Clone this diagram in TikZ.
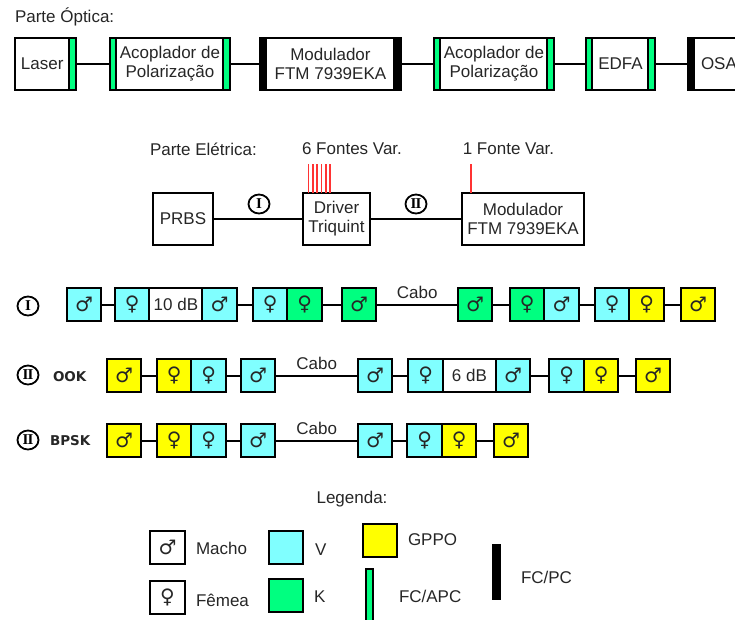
\documentclass[tikz,border=0pt]{standalone}
\usepackage{fontspec}
\setmainfont{Liberation Sans}
\newfontfamily\simbfont{DejaVu Sans}
\newfontfamily\romfont{Liberation Serif}
\usetikzlibrary{arrows.meta,shapes.geometric,positioning}
\definecolor{conV}{HTML}{80FFFF}
\definecolor{conK}{HTML}{00FF80}
\definecolor{conG}{HTML}{FFFF00}
\newcommand{\macho}{♂}
\newcommand{\femea}{♀}
\begin{document}
\begin{tikzpicture}[x=1pt,y=-1pt,
  every node/.style={font=\fontsize{17}{19}\selectfont,text=black!85,inner sep=0pt,outer sep=0pt},
  fio/.style={line width=2pt},
  fonte/.style={line width=1.2pt,color=red!80!white},
  caixa/.style={draw,line width=2pt,align=center,minimum height=52pt},
  tiraK/.style={draw,line width=2pt,fill=conK,minimum width=6.5pt,minimum height=52pt},
  tiraP/.style={draw,line width=2pt,fill=black,minimum width=6.5pt,minimum height=52pt},
  bloco/.style={draw,line width=2pt,align=center,minimum height=52pt},
  conn/.style={draw,line width=2pt,minimum width=34.5pt,minimum height=33pt,font=\simbfont\fontsize{20}{20}\selectfont},
  connV/.style={conn,fill=conV},
  connK/.style={conn,fill=conK},
  connG/.style={conn,fill=conG},
  atenu/.style={draw,line width=2pt,minimum width=53pt,minimum height=33pt},
  romano/.style={draw,ellipse,line width=1.8pt,minimum width=21pt,minimum height=19pt,text=black,font=\romfont\bfseries\fontsize{15}{15}\selectfont},
  modo/.style={font=\fontsize{13.5}{14}\selectfont\simbfont\bfseries,anchor=west}]
  \path[use as bounding box,clip] (0,0) rectangle (735,619);

  \node[anchor=west] (optica) at (15,17) {Parte Óptica:};
  \node[caixa,minimum width=54.5pt] (laser) at (42.2,63.5) {Laser};
  \node[tiraK,right=0pt of laser] (laserK) {};
  \node[tiraK,right=34pt of laserK] (acop1e) {};
  \node[caixa,minimum width=107pt,right=0pt of acop1e] (acop1) {Acoplador de\\Polarização};
  \node[tiraK,right=0pt of acop1] (acop1d) {};
  \node[tiraP,right=30pt of acop1d] (mod1e) {};
  \node[caixa,minimum width=128pt,right=0pt of mod1e] (mod1) {Modulador\\FTM 7939EKA};
  \node[tiraP,right=0pt of mod1] (mod1d) {};
  \node[tiraK,right=33pt of mod1d] (acop2e) {};
  \node[caixa,minimum width=107pt,right=0pt of acop2e] (acop2) {Acoplador de\\Polarização};
  \node[tiraK,right=0pt of acop2] (acop2d) {};
  \node[tiraK,right=32pt of acop2d] (edfae) {};
  \node[caixa,minimum width=56pt,right=0pt of edfae] (edfa) {EDFA};
  \node[tiraK,right=0pt of edfa] (edfad) {};
  \node[tiraP,right=33pt of edfad] (osae) {};
  \node[caixa,minimum width=49pt,right=0pt of osae] (osa) {OSA};
  \draw[fio] (laserK) -- (acop1e);
  \draw[fio] (acop1d) -- (mod1e);
  \draw[fio] (mod1d) -- (acop2e);
  \draw[fio] (acop2d) -- (edfae);
  \draw[fio] (edfad) -- (osae);

  \node[anchor=west] (eletrica) at (150,149) {Parte Elétrica:};
  \node (fontes6) at (352,149) {6 Fontes Var.};
  \node (fontes1) at (508.5,149) {1 Fonte Var.};
  \node[bloco,minimum width=60pt] (prbs) at (183,219) {PRBS};
  \node[bloco,minimum width=67pt,right=90pt of prbs] (driver) {Driver\\Triquint};
  \node[bloco,minimum width=122pt,right=92pt of driver] (mod2) {Modulador\\FTM 7939EKA};
  \node[romano] (cI) at (259,204) {I};
  \node[romano] (cII) at (416,204) {I\kern-1pt I};
  \draw[fio] (prbs) -- (driver);
  \draw[fio] (driver) -- (mod2);
  \coordinate (f1) at (308.5,164);
  \coordinate (f2) at (313,164);
  \coordinate (f3) at (317,164);
  \coordinate (f4) at (321.5,164);
  \coordinate (f5) at (326,164);
  \coordinate (f6) at (330,164);
  \coordinate (f7) at (471,164);
  \draw[fonte] (f1) -- (f1 |- driver.north);
  \draw[fonte] (f2) -- (f2 |- driver.north);
  \draw[fonte] (f3) -- (f3 |- driver.north);
  \draw[fonte] (f4) -- (f4 |- driver.north);
  \draw[fonte] (f5) -- (f5 |- driver.north);
  \draw[fonte] (f6) -- (f6 |- driver.north);
  \draw[fonte] (f7) -- (f7 |- mod2.north);

  \node[romano] (rI) at (28,306) {I};
  \node[connV] (a1) at (84.2,304.7) {\macho};
  \node[connV,right=13.5pt of a1] (a2) {\femea};
  \node[atenu,right=0pt of a2] (a3) {10 dB};
  \node[connV,right=0pt of a3] (a4) {\macho};
  \node[connV,right=16pt of a4] (a5) {\femea};
  \node[connK,right=0pt of a5] (a6) {\femea};
  \node[connK,right=20pt of a6] (a7) {\macho};
  \node[connK,right=81.5pt of a7] (a8) {\macho};
  \node[connK,right=17.5pt of a8] (a9) {\femea};
  \node[connV,right=0pt of a9] (a10) {\macho};
  \node[connV,right=16pt of a10] (a11) {\femea};
  \node[connG,right=0pt of a11] (a12) {\femea};
  \node[connG,right=17pt of a12] (a13) {\macho};
  \draw[fio] (a1) -- (a2);
  \draw[fio] (a4) -- (a5);
  \draw[fio] (a6) -- (a7);
  \draw[fio] (a7) -- node[above=6pt] (caboA) {Cabo} (a8);
  \draw[fio] (a8) -- (a9);
  \draw[fio] (a10) -- (a11);
  \draw[fio] (a12) -- (a13);

  \node[romano] (rII) at (28,375) {I\kern-1pt I};
  \node[modo] (ook) at (53,377) {OOK};
  \node[connG] (b1) at (124.2,375.7) {\macho};
  \node[connG,right=15.5pt of b1] (b2) {\femea};
  \node[connV,right=0pt of b2] (b3) {\femea};
  \node[connV,right=15pt of b3] (b4) {\macho};
  \node[connV,right=82.5pt of b4] (b5) {\macho};
  \node[connV,right=16pt of b5] (b6) {\femea};
  \node[atenu,right=0pt of b6] (b7) {6 dB};
  \node[connV,right=0pt of b7] (b8) {\macho};
  \node[connV,right=19pt of b8] (b9) {\femea};
  \node[connG,right=0pt of b9] (b10) {\femea};
  \node[connG,right=17.5pt of b10] (b11) {\macho};
  \draw[fio] (b1) -- (b2);
  \draw[fio] (b3) -- (b4);
  \draw[fio] (b4) -- node[above=6pt] (caboB) {Cabo} (b5);
  \draw[fio] (b5) -- (b6);
  \draw[fio] (b8) -- (b9);
  \draw[fio] (b10) -- (b11);

  \node[romano] (rIII) at (28,440) {I\kern-1pt I};
  \node[modo] (bpsk) at (50,441) {BPSK};
  \node[connG] (c1) at (124.2,440.7) {\macho};
  \node[connG,right=15.5pt of c1] (c2) {\femea};
  \node[connV,right=0pt of c2] (c3) {\femea};
  \node[connV,right=15pt of c3] (c4) {\macho};
  \node[connV,right=82.5pt of c4] (c5) {\macho};
  \node[connV,right=15pt of c5] (c6) {\femea};
  \node[connG,right=0pt of c6] (c7) {\femea};
  \node[connG,right=17.5pt of c7] (c8) {\macho};
  \draw[fio] (c1) -- (c2);
  \draw[fio] (c3) -- (c4);
  \draw[fio] (c4) -- node[above=6pt] (caboC) {Cabo} (c5);
  \draw[fio] (c5) -- (c6);
  \draw[fio] (c7) -- (c8);

  \node (legenda) at (352,499) {Legenda:};
  \node[conn] (lmacho) at (167.5,547.5) {\macho};
  \node[anchor=west] (tmacho) at (196,548) {Macho};
  \node[conn] (lfemea) at (167.5,597.5) {\femea};
  \node[anchor=west] (tfemea) at (196,600) {Fêmea};
  \node[connV] (lV) at (286,547.5) {};
  \node[anchor=west] (tV) at (315,550) {V};
  \node[connK] (lK) at (286,595.5) {};
  \node[anchor=west] (tK) at (314,597) {K};
  \node[connG] (lG) at (380,540.5) {};
  \node[anchor=west] (tG) at (408,540) {GPPO};
  \node[tiraK,anchor=north,minimum height=60pt] (lFA) at (369.5,569) {};
  \node[anchor=west] (tFA) at (399,596) {FC/APC};
  \node[fill=black,minimum width=9pt,minimum height=56pt] (lFP) at (496.5,572) {};
  \node[anchor=west] (tFP) at (521,577) {FC/PC};
\end{tikzpicture}
\end{document}
